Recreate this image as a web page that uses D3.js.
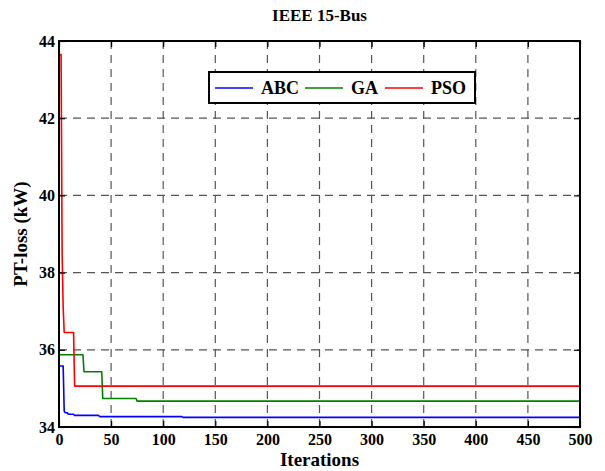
<!DOCTYPE html>
<html>
<head>
<meta charset="utf-8">
<script src="https://cdn.jsdelivr.net/npm/d3@7/dist/d3.min.js"></script>
<style>
  html, body { margin: 0; padding: 0; background: #fff; }
  svg { display: block; }
  text { font-family: "Liberation Serif", "DejaVu Serif", serif; font-weight: bold; }
</style>
</head>
<body>
<svg id="chart" width="605" height="471"></svg>
<script>
// Best-so-far power loss per optimizer: each value holds from its iteration
// until the next listed iteration.
const abcIter  = [0, 5, 6, 9, 15, 39, 119, 500];
const abcLoss  = [35.58, 34.41, 34.37, 34.33, 34.30, 34.27, 34.25, 34.25];

const gaIter   = [0, 24, 42, 75, 500];
const gaLoss   = [35.87, 35.43, 34.74, 34.67, 34.67];

const psoIter  = [0, 3, 4, 5, 15, 500];
const psoLoss  = [43.65, 38.50, 37.10, 36.45, 35.06, 35.06];

const xTicks = [0, 50, 100, 150, 200, 250, 300, 350, 400, 450, 500];
const yTicks = [34, 36, 38, 40, 42, 44];

const series = [
  { name: "ABC", color: "#0000ff", iter: abcIter, loss: abcLoss },
  { name: "GA",  color: "#008000", iter: gaIter,  loss: gaLoss },
  { name: "PSO", color: "#ff0000", iter: psoIter, loss: psoLoss }
];

const svg = d3.select("#chart");
const margin = { left: 59, right: 25, top: 41, bottom: 44 };
const W = 605, H = 471;
const x = d3.scaleLinear().domain([0, 500]).range([margin.left, W - margin.right]);
const y = d3.scaleLinear().domain([34, 44]).range([H - margin.bottom, margin.top]);

// grid
const grid = svg.append("g");
grid.selectAll("line.vx").data(xTicks.slice(1, -1)).join("line")
  .attr("x1", d => x(d)).attr("x2", d => x(d))
  .attr("y1", y(44)).attr("y2", y(34))
  .attr("stroke", "#555").attr("stroke-width", 1.2).attr("stroke-dasharray", "8,6");
grid.selectAll("line.hy").data(yTicks.slice(1, -1)).join("line")
  .attr("x1", x(0)).attr("x2", x(500))
  .attr("y1", d => y(d)).attr("y2", d => y(d))
  .attr("stroke", "#555").attr("stroke-width", 1.2).attr("stroke-dasharray", "8,6");

// Per-iteration polyline: a change at iteration k runs from (k-1, prev) to (k, new),
// so drops appear as near-vertical segments.
function polyline(iters, vals) {
  const pts = [[iters[0], vals[0]]];
  for (let i = 1; i < iters.length; i++) {
    const prev = pts[pts.length - 1];
    const k = iters[i];
    if (k - 1 > prev[0]) pts.push([k - 1, prev[1]]);
    pts.push([k, vals[i]]);
  }
  return pts;
}

const line = d3.line().x(d => x(d[0])).y(d => y(d[1]));
series.forEach(s => {
  svg.append("path").datum(polyline(s.iter, s.loss))
    .attr("d", line)
    .attr("fill", "none").attr("stroke", s.color).attr("stroke-width", 1.6)
    .attr("stroke-linejoin", "round");
});

// axes with inward ticks on all sides
const tickLen = 6;
const axBottom = svg.append("g").attr("transform", `translate(0,${y(34)})`)
  .call(d3.axisBottom(x).tickValues(xTicks).tickSizeInner(-tickLen).tickSizeOuter(0).tickPadding(7));
const axTop = svg.append("g").attr("transform", `translate(0,${y(44)})`)
  .call(d3.axisTop(x).tickValues(xTicks).tickSizeInner(-tickLen).tickSizeOuter(0).tickFormat(""));
const axLeft = svg.append("g").attr("transform", `translate(${x(0)},0)`)
  .call(d3.axisLeft(y).tickValues(yTicks).tickSizeInner(-tickLen).tickSizeOuter(0).tickPadding(4));
const axRight = svg.append("g").attr("transform", `translate(${x(500)},0)`)
  .call(d3.axisRight(y).tickValues(yTicks).tickSizeInner(-tickLen).tickSizeOuter(0).tickFormat(""));
[axBottom, axTop, axLeft, axRight].forEach(g => {
  g.select(".domain").remove();
  g.selectAll(".tick line").attr("stroke", "#000").attr("stroke-width", 1.2);
  g.selectAll("text").attr("fill", "#000").style("font-size", "16px")
    .style("font-family", "'Liberation Serif', serif").style("font-weight", "bold");
});

// frame
svg.append("rect")
  .attr("x", x(0)).attr("y", y(44))
  .attr("width", x(500) - x(0)).attr("height", y(34) - y(44))
  .attr("fill", "none").attr("stroke", "#000").attr("stroke-width", 2);

// title and axis labels
svg.append("text").attr("x", (x(0) + x(500)) / 2).attr("y", 21)
  .attr("text-anchor", "middle").style("font-size", "17px").text("IEEE 15-Bus");
svg.append("text").attr("x", (x(0) + x(500)) / 2).attr("y", 466)
  .attr("text-anchor", "middle").style("font-size", "19px").text("Iterations");
svg.append("text")
  .attr("transform", `translate(27,${(y(34) + y(44)) / 2}) rotate(-90)`)
  .attr("text-anchor", "middle").style("font-size", "19px").text("PT-loss (kW)");

// legend
const lg = svg.append("g").attr("transform", "translate(209,72)");
lg.append("rect").attr("width", 266).attr("height", 31)
  .attr("fill", "#fff").attr("stroke", "#000").attr("stroke-width", 2);
const entryX = [6, 96, 176];
series.forEach((s, i) => {
  const ex = entryX[i];
  lg.append("line").attr("x1", ex).attr("x2", ex + 38).attr("y1", 16).attr("y2", 16)
    .attr("stroke", s.color).attr("stroke-width", 1.6);
  lg.append("text").attr("x", ex + 46).attr("y", 22).style("font-size", "18px").text(s.name);
});
</script>
</body>
</html>
